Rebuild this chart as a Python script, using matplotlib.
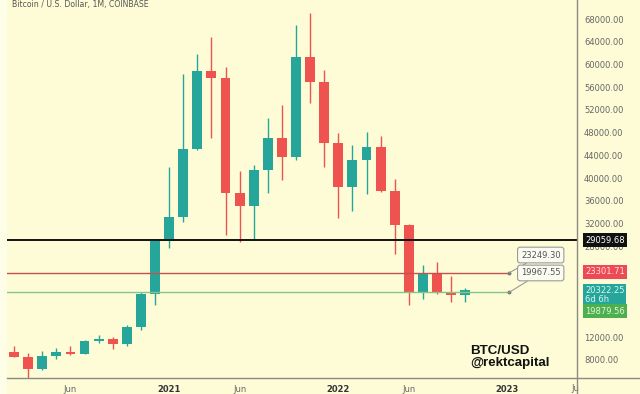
import numpy as np
import pandas as pd
import matplotlib
matplotlib.use("Agg")
import matplotlib.pyplot as plt
from matplotlib.patches import Rectangle
from matplotlib.lines import Line2D

# monthly BTC/USD candles, Feb 2020 .. Oct 2022
months = pd.date_range("2020-02-01", periods=33, freq="MS")
opens = [9400, 8530, 6420, 8630, 9450, 9140, 11350, 11660, 10780, 13800, 19700,
         29000, 33100, 45200, 58800, 57700, 37300, 35050, 41500, 47100, 43800, 61300, 57000,
         46200, 38500, 43200, 45500, 37700, 31800, 19950, 23300, 20050, 19400]
highs = [10460, 9200, 9600, 10080, 10380, 11450, 12470, 12070, 14100, 19900, 29300,
         41950, 58350, 61800, 64900, 59500, 41300, 42400, 50500, 52900, 67000, 69000, 59100,
         47900, 45800, 48200, 47400, 39800, 31900, 24700, 25200, 22700, 20700]
lows = [8500, 3850, 6150, 8120, 8900, 8980, 11000, 9880, 10530, 13200, 17600,
        27700, 32300, 45000, 47000, 30000, 28800, 29300, 37300, 39600, 43200, 53300, 42000,
        32900, 34300, 37200, 37600, 26700, 17600, 18800, 19550, 18150, 18200]
closes = [8530, 6420, 8630, 9450, 9140, 11350, 11660, 10780, 13800, 19700, 29000,
          33100, 45200, 58800, 57700, 37300, 35050, 41500, 47100, 43800, 61300, 57000, 46200,
          38500, 43200, 45500, 37700, 31800, 19950, 23300, 20050, 19400, 20322.25]

tick_months = ["2020-06", "2021-01", "2021-06", "2022-01", "2022-06", "2023-01", "2023-06"]
tick_labels = ["Jun", "2021", "Jun", "2022", "Jun", "2023", "Jun"]
price_ticks = list(range(8000, 72001, 4000))

black_level = 29059.68
red_level = 23301.71
green_level = 19879.56
last_price = 20322.25
note_values = [23249.30, 19967.55]

BG = "#fdfcd7"
TEAL = "#26a69a"
RED = "#ef5350"

fig = plt.figure(figsize=(6.4, 3.94), dpi=100, facecolor=BG)
ax = fig.add_axes([7 / 640, 16 / 394, 570 / 640, 378 / 394])
ax.set_facecolor(BG)

x = np.arange(len(opens))
o = np.array(opens, float)
c = np.array(closes, float)
up = c >= o
cols = np.where(up, TEAL, RED)
bottoms = np.minimum(o, c)
heights = np.maximum(np.abs(c - o), 250)

ax.vlines(x, lows, highs, colors=cols, linewidth=1.0, zorder=2)
ax.bar(x, heights, bottom=bottoms, width=0.7, color=cols, linewidth=0, zorder=3)


def month_pos(s):
    d = pd.Timestamp(s)
    return (d.year - months[0].year) * 12 + d.month - months[0].month


# horizontal levels
line_end = 35.1
ax.axhline(black_level, color="#111111", lw=1.4, zorder=4)
ax.plot([-0.5, line_end], [red_level, red_level], color="#c4514c", lw=1.0, zorder=4)
ax.plot([-0.5, line_end], [green_level, green_level], color="#86c585", lw=1.0, zorder=4)
ax.plot([line_end, line_end], [red_level, green_level], ls="none", marker="o",
        ms=1.8, color="#777777", zorder=5)

# price notes
for val, lvl, dy in zip(note_values, [red_level, green_level], [18, 19.5]):
    ax.annotate(f"{val:.2f}", xy=(line_end, lvl), xytext=(12, dy),
                textcoords="offset pixels", ha="left", va="center",
                fontsize=6, color="#555555", zorder=6,
                bbox=dict(boxstyle="round,pad=0.4,rounding_size=0.3",
                          fc="#fbfbf2", ec="#9a9a9a", lw=0.8),
                arrowprops=dict(arrowstyle="-", color="#9a9a9a", lw=0.8,
                                shrinkA=0, shrinkB=0))

ax.set_xlim(-0.5, 39.93)
ax.set_ylim(4830, 71350)

# x axis
tick_pos = [month_pos(s) for s in tick_months]
ax.set_xticks(tick_pos[:-1])
ax.set_xticklabels(tick_labels[:-1])
for lab in ax.get_xticklabels():
    if lab.get_text().isdigit():
        lab.set_fontweight("bold")
        lab.set_color("#333333")
    else:
        lab.set_color("#666666")
ax.tick_params(axis="x", length=0, pad=5, labelsize=6)
ax.text(tick_pos[-1], -0.029, tick_labels[-1], transform=ax.get_xaxis_transform(),
        ha="center", va="center", fontsize=6, color="#666666", clip_on=False)

# y axis on the right
ax.yaxis.tick_right()
ax.set_yticks(price_ticks[:-1])
ax.set_yticklabels([f"{v:.2f}" for v in price_ticks[:-1]])
ax.tick_params(axis="y", length=0, pad=5, labelsize=6, labelcolor="#666666")
ax.text(1.0 + 7 / 570, price_ticks[-1], f"{price_ticks[-1]:.2f}",
        transform=ax.get_yaxis_transform(), ha="left", va="center",
        fontsize=6, color="#666666", clip_on=False)

for s in ax.spines.values():
    s.set_visible(False)

# price scale boxes
ytr = ax.get_yaxis_transform()
bx = 1.0 + 8 / 570
box_specs = [
    (black_level, f"{black_level:.2f}", "#111111", "#ffffff", 0, 0.3),
    (red_level, f"{red_level:.2f}", "#ee4a55", "#ffe0e0", 1.5, 0.3),
    (last_price, f"{last_price:.2f}\n6d 6h", TEAL, "#d9f4f0", 4, 0.22),
    (green_level, f"{green_level:.2f}", "#4caf50", "#e4f6d8", -19, 0.3),
]
for val, txt, fc, tc, dy, pad in box_specs:
    va = "top" if "\n" in txt else "center"
    ax.annotate(txt, xy=(bx, val), xycoords=ytr, xytext=(0, dy),
                textcoords="offset pixels", ha="left", va=va, fontsize=6,
                color=tc, linespacing=0.95, zorder=7, annotation_clip=False,
                bbox=dict(boxstyle=f"square,pad={pad}", fc=fc, ec="none"))

# watermark
ax.text((470 - 7) / 570, 0.025, "BTC/USD\n@rektcapital", transform=ax.transAxes,
        ha="left", va="bottom", fontsize=9.6, fontweight="bold",
        family="Liberation Sans", color="#111111", linespacing=1.0, zorder=6)

# title
fig.text(12 / 640, 1.0 + 0.5 / 394, "Bitcoin / U.S. Dollar, 1M, COINBASE",
         ha="left", va="top", fontsize=5.6, color="#555555")

# frame pieces drawn on the figure
fig.patches.append(Rectangle((0, 0), 7 / 640, 1, transform=fig.transFigure,
                             fc="#fefee8", ec="none", zorder=0))
fig.patches.append(Rectangle((579 / 640, 0), 61 / 640, 15 / 394, transform=fig.transFigure,
                             fc=BG, ec="none", zorder=10))
fig.lines.append(Line2D([7 / 640, 1], [16 / 394, 16 / 394], transform=fig.transFigure,
                        color="#8a8a80", lw=1.0, zorder=11))
fig.lines.append(Line2D([577 / 640, 577 / 640], [0, 1], transform=fig.transFigure,
                        color="#8a8a80", lw=1.0, zorder=11))

fig.savefig("out.png", dpi=100, facecolor=BG)
